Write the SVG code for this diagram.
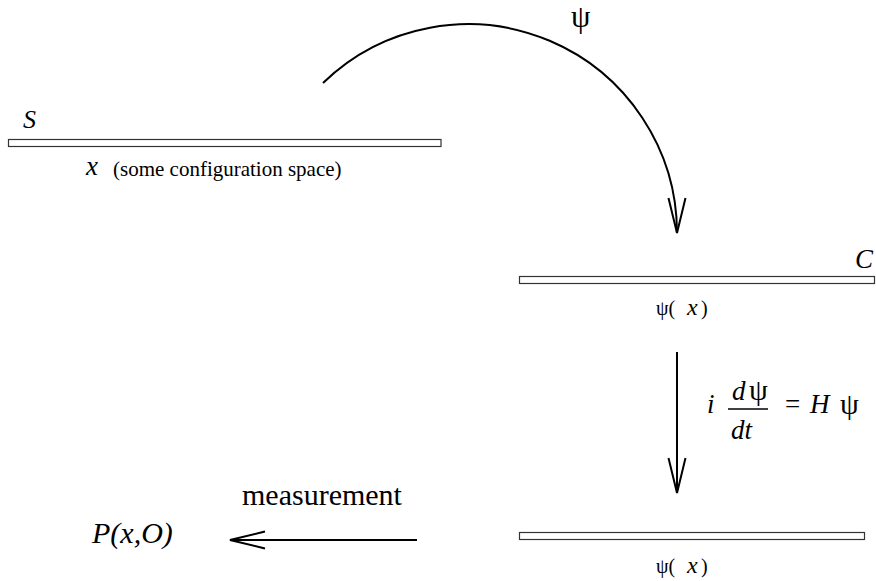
<svg xmlns="http://www.w3.org/2000/svg" width="876" height="581" viewBox="0 0 876 581">
<style>
.bar{fill:#fff;stroke:#333;stroke-width:1.2}
.t{font-family:"Liberation Serif","Times New Roman",serif;fill:#000}
.it{font-style:italic}
.ln{fill:none;stroke:#000;stroke-width:2}
</style>
<defs>
<marker id="open" markerUnits="userSpaceOnUse" viewBox="-40 -12 44 24" refX="0" refY="0" markerWidth="44" markerHeight="24" orient="auto" overflow="visible">
<path d="M -35 -8.5 L 0 0 L -35 8.5" fill="none" stroke="#000" stroke-width="2"/>
</marker>
</defs>
<rect width="876" height="581" fill="#fff"/>
<g id="connectors">
<path class="ln" d="M 323 83 A 208.8 208.8 0 0 1 677 233" marker-end="url(#open)"/>
<line class="ln" x1="677" y1="352" x2="677" y2="493" marker-end="url(#open)"/>
<line class="ln" x1="417" y1="540" x2="230" y2="540" marker-end="url(#open)"/>
</g>
<g id="node-S">
<rect class="bar" x="8.5" y="139.5" width="432.5" height="7"/>
<text class="t it" x="23" y="128" font-size="26">S</text>
<text class="t it" x="86" y="175" font-size="27">x</text>
<text class="t" x="113" y="176" font-size="21">(some configuration space)</text>
</g>
<g id="label-psi">
<text class="t" x="571" y="27" font-size="31">ψ</text>
</g>
<g id="node-C">
<rect class="bar" x="519.5" y="276.5" width="355" height="7"/>
<text class="t it" x="855" y="268" font-size="27">C</text>
<text class="t" y="315" font-size="20"><tspan x="656">ψ(</tspan><tspan x="687" class="it" font-size="24">x</tspan><tspan x="701">)</tspan></text>
</g>
<g id="label-eq">
<text class="t it" x="707" y="413" font-size="27">i</text>
<text class="t" y="400" font-size="27"><tspan x="732" class="it">d</tspan><tspan x="749" font-size="30">ψ</tspan></text>
<line x1="728" y1="409" x2="768" y2="409" stroke="#000" stroke-width="1.5"/>
<text class="t it" x="731" y="439" font-size="27">dt</text>
<text class="t" x="785" y="413" font-size="27">=</text>
<text class="t it" x="810" y="413" font-size="27">H</text>
<text class="t" x="840" y="414" font-size="30">ψ</text>
</g>
<g id="node-bottom">
<rect class="bar" x="519.5" y="532.5" width="345" height="7"/>
<text class="t" y="573" font-size="20"><tspan x="656">ψ(</tspan><tspan x="687" class="it" font-size="24">x</tspan><tspan x="701">)</tspan></text>
</g>
<g id="label-measurement">
<text class="t" x="242" y="505" font-size="30">measurement</text>
</g>
<g id="node-P">
<text class="t it" x="92" y="543" font-size="30">P(x,O)</text>
</g>
</svg>
